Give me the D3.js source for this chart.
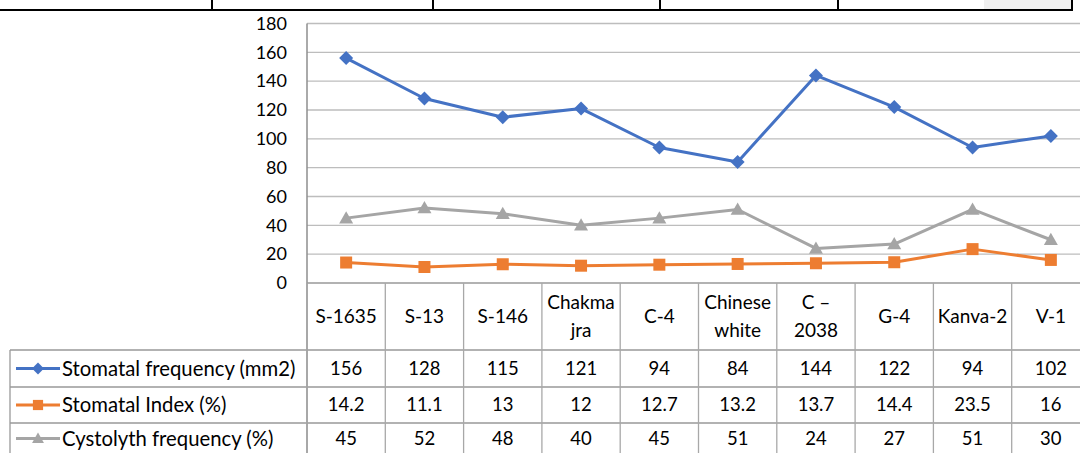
<!DOCTYPE html>
<html><head><meta charset="utf-8">
<script src="https://cdn.jsdelivr.net/npm/d3@7"></script>
<style>body{margin:0;background:#fff;} svg{display:block;font-family:Lato,"Open Sans",sans-serif;}</style>
</head><body><svg id="c" width="1080" height="453"></svg>
<script>
const categories = [["S-1635"],["S-13"],["S-146"],["Chakma","jra"],["C-4"],["Chinese","white"],["C –","2038"],["G-4"],["Kanva-2"],["V-1"]];
const seriesNames = ["Stomatal frequency (mm2)","Stomatal Index (%)","Cystolyth frequency (%)"];
const stomatalFrequency = [156,128,115,121,94,84,144,122,94,102];
const stomatalIndex = [14.2,11.1,13,12,12.7,13.2,13.7,14.4,23.5,16];
const cystolythFrequency = [45,52,48,40,45,51,24,27,51,30];
const yTicks = [0,20,40,60,80,100,120,140,160,180];

(function(){
const series = [
  {name: seriesNames[0], values: stomatalFrequency, color: "#4472C4", marker: "diamond"},
  {name: seriesNames[1], values: stomatalIndex, color: "#ED7D31", marker: "square"},
  {name: seriesNames[2], values: cystolythFrequency, color: "#A5A5A5", marker: "triangle"}
];

const svg = d3.select("#c");
const pL = 307, pR = 1090, pT = 23.5, pB = 283;
const x = d3.scaleBand().domain(d3.range(categories.length)).range([pL, pR]);
const y = d3.scaleLinear().domain([0,180]).range([pB, pT]);

function drawMarker(g, type, cx, cy, color, sc){
  sc = sc||1;
  if(type==="diamond"){
    const r=7*sc;
    g.append("path").attr("d",`M${cx},${cy-r}L${cx+r},${cy}L${cx},${cy+r}L${cx-r},${cy}Z`).attr("fill",color);
  } else if(type==="square"){
    const r=6*sc;
    g.append("rect").attr("x",cx-r).attr("y",cy-r).attr("width",2*r).attr("height",2*r).attr("fill",color);
  } else {
    const r=7*sc;
    g.append("path").attr("d",`M${cx},${cy-r}L${cx+r},${cy+r*0.75}L${cx-r},${cy+r*0.75}Z`).attr("fill",color);
  }
}

// Top decorative border (page table above)
const tb = svg.append("g");
tb.append("rect").attr("x",984).attr("y",0).attr("width",88).attr("height",9).attr("fill","#f0f0f0");
tb.append("line").attr("x1",0).attr("x2",1073).attr("y1",10).attr("y2",10).attr("stroke","#000").attr("stroke-width",2);
[212,433,660,838,1072].forEach(v=>tb.append("line").attr("x1",v).attr("x2",v).attr("y1",0).attr("y2",10).attr("stroke","#000").attr("stroke-width",2));

// gridlines
svg.append("g").selectAll("line").data(yTicks.filter(d=>d>0)).join("line")
  .attr("x1",pL).attr("x2",pR).attr("y1",d=>y(d)).attr("y2",d=>y(d))
  .attr("stroke","#bdbdbd").attr("stroke-width",1.3);

// y axis labels
const yAxis = d3.axisLeft(y).tickValues(yTicks).tickSize(0).tickPadding(20);
const ya = svg.append("g").attr("transform",`translate(${pL},0)`).call(yAxis);
ya.select(".domain").remove();
ya.selectAll("text").attr("font-size",18).attr("fill","#000").attr("font-family","Lato");
svg.append("line").attr("x1",pL).attr("x2",pL).attr("y1",pT).attr("y2",453).attr("stroke","#8e8e8e").attr("stroke-width",1.5);

// table
const rows = [350, 387, 423, 453];
const tg = svg.append("g");
tg.append("line").attr("x1",pL).attr("x2",pR).attr("y1",pB).attr("y2",pB).attr("stroke","#999").attr("stroke-width",1.3);
rows.slice(0,3).forEach(r=>tg.append("line").attr("x1",10).attr("x2",pR).attr("y1",r).attr("y2",r).attr("stroke","#999").attr("stroke-width",1.3));
tg.append("line").attr("x1",10).attr("x2",10).attr("y1",rows[0]).attr("y2",453).attr("stroke","#999").attr("stroke-width",1.3);
d3.range(categories.length+1).forEach(i=>{
  const xv = pL + i*x.bandwidth();
  tg.append("line").attr("x1",xv).attr("x2",xv).attr("y1",pB).attr("y2",453).attr("stroke","#a8a8a8").attr("stroke-width",1.3);
});

// category labels
categories.forEach((c,i)=>{
  const cx = x(i)+x.bandwidth()/2;
  const lines = c.length===1 ? [316.5] : [302.5, 330.5];
  c.forEach((t,j)=>tg.append("text").attr("x",cx).attr("y",lines[j]).attr("dy","0.35em")
    .attr("text-anchor","middle").attr("font-size",19).text(t));
});

// value rows and legend
const rowMid = [368.5, 405, 438.5];
series.forEach((s,k)=>{
  s.values.forEach((v,i)=>{
    tg.append("text").attr("x",x(i)+x.bandwidth()/2).attr("y",rowMid[k]).attr("dy","0.35em")
      .attr("text-anchor","middle").attr("font-size",18.5).text(v);
  });
  tg.append("line").attr("x1",16).attr("x2",60).attr("y1",rowMid[k]).attr("y2",rowMid[k])
    .attr("stroke",s.color).attr("stroke-width",3);
  drawMarker(tg, s.marker, 38, rowMid[k], s.color, 0.85);
  tg.append("text").attr("x",62).attr("y",rowMid[k]).attr("dy","0.35em").attr("font-size",20.3).text(s.name);
});

// lines
const line = d3.line().x((d,i)=>x(i)+x.bandwidth()/2).y(d=>y(d));
series.forEach(s=>{
  svg.append("path").datum(s.values).attr("d",line).attr("fill","none")
    .attr("stroke",s.color).attr("stroke-width",3).attr("stroke-linejoin","round");
  s.values.forEach((v,i)=>drawMarker(svg, s.marker, x(i)+x.bandwidth()/2, y(v), s.color, 1));
});
})();
</script></body></html>
